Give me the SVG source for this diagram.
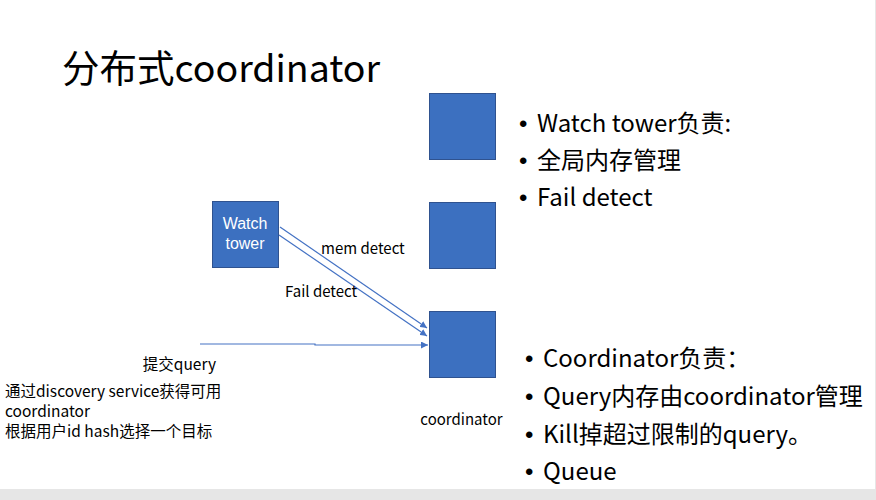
<svg xmlns="http://www.w3.org/2000/svg" width="876" height="500" viewBox="0 0 876 500">
<defs>
<style>
.t{font-family:"Noto Sans CJK SC","Noto Sans",sans-serif;fill:#000}
.b{font-family:"Liberation Sans",sans-serif}
.box{fill:#3C70C0;stroke:#2F528F;stroke-width:1}
.ln{stroke:#4472C4;stroke-width:1.2;fill:none}
</style>
<marker id="ah" viewBox="0 0 10 10" refX="10" refY="5" markerWidth="7" markerHeight="7" markerUnits="userSpaceOnUse" orient="auto">
<path d="M0,0 L10,5 L0,10 z" fill="#4472C4"/>
</marker>
</defs>
<rect x="0" y="0" width="876" height="500" fill="#e6e6e6"/>
<rect x="0" y="0" width="875" height="489" fill="#ffffff"/>
<text class="t" x="62" y="82" font-size="37.5">分布式coordinator</text>
<g id="box-top"><rect class="box" x="429.5" y="93.5" width="66" height="66"/></g>
<g id="box-mid"><rect class="box" x="429.5" y="202.5" width="66" height="66"/></g>
<g id="coordinator"><rect class="box" x="429.5" y="311.5" width="66" height="66"/>
<text class="t" x="461.5" y="425" font-size="15" text-anchor="middle">coordinator</text></g>
<g id="watchtower"><rect class="box" x="212.5" y="201.5" width="66" height="66"/>
<text class="b" font-size="16" fill="#fff" text-anchor="middle"><tspan x="245" y="229">Watch</tspan><tspan x="245" y="249">tower</tspan></text></g>
<g id="connectors">
<line class="ln" x1="280" y1="227" x2="427" y2="328" marker-end="url(#ah)"/>
<line class="ln" x1="279" y1="235" x2="427" y2="336" marker-end="url(#ah)"/>
<polyline class="ln" points="200,344 315,344 315,345 428,345" marker-end="url(#ah)"/>
<text class="t" x="321" y="254" font-size="15">mem detect</text>
<text class="t" x="285" y="297" font-size="15">Fail detect</text>
</g>
<g id="left-text">
<text class="t" x="216" y="370" font-size="15.5" text-anchor="end">提交query</text>
<text class="t" x="5" y="397" font-size="15.5">通过discovery service获得可用</text>
<text class="t" x="5" y="417" font-size="15.5">coordinator</text>
<text class="t" x="5" y="437" font-size="15.5">根据用户id hash选择一个目标</text>
</g>
<g id="wt-bullets" font-size="24">
<text class="t" x="519" y="132"><tspan class="b">•</tspan><tspan x="537">Watch tower负责:</tspan></text>
<text class="t" x="519" y="169"><tspan class="b">•</tspan><tspan x="537">全局内存管理</tspan></text>
<text class="t" x="519" y="206"><tspan class="b">•</tspan><tspan x="537">Fail detect</tspan></text>
</g>
<g id="co-bullets" font-size="24">
<text class="t" x="525" y="367"><tspan class="b">•</tspan><tspan x="543">Coordinator负责：</tspan></text>
<text class="t" x="525" y="405"><tspan class="b">•</tspan><tspan x="543">Query内存由coordinator管理</tspan></text>
<text class="t" x="525" y="443"><tspan class="b">•</tspan><tspan x="543">Kill掉超过限制的query。</tspan></text>
<text class="t" x="525" y="480"><tspan class="b">•</tspan><tspan x="543">Queue</tspan></text>
</g>
</svg>
